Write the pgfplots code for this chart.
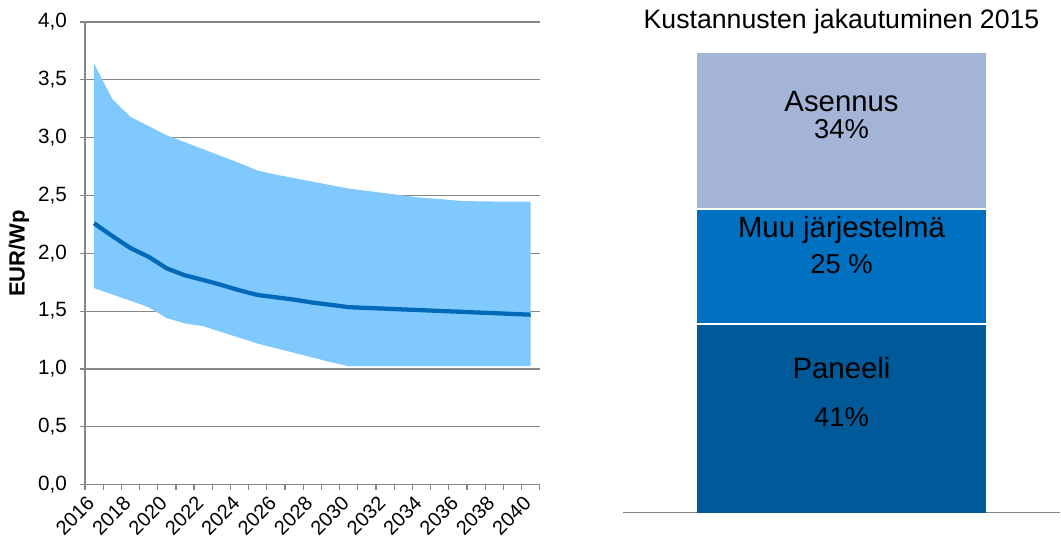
\documentclass[border=0pt]{standalone}
\usepackage{fontspec}
\setmainfont{Liberation Sans}
\usepackage{pgfplots}
\pgfplotsset{compat=1.18}
\definecolor{band}{RGB}{127,201,255}
\definecolor{linec}{RGB}{0,106,184}
\definecolor{gridgray}{RGB}{134,134,134}
\definecolor{paneeli}{RGB}{0,89,152}
\definecolor{muu}{RGB}{0,112,192}
\definecolor{asennus}{RGB}{163,180,214}
\begin{document}
\begin{tikzpicture}
\begin{axis}[
  scale only axis, width=341.25pt, height=347.25pt,
  xmin=-0.5, xmax=24.5, ymin=0, ymax=4,
  axis lines=left,
  axis line style={-, draw=gridgray, line width=0.9pt},
  ytick={0,0.5,...,4},
  ymajorgrids, grid style={draw=gridgray, line width=0.9pt},
  xtick={0,2,...,24},
  xticklabels={2016,2018,2020,2022,2024,2026,2028,2030,2032,2034,2036,2038,2040},
  major x tick style={draw=none},
  extra x ticks={-0.5,0.5,...,24.5},
  extra x tick labels={},
  extra x tick style={major x tick style={draw=gridgray, line width=0.9pt}},
  tick align=outside, major tick length=4pt,
  tick style={draw=gridgray, line width=0.9pt},
  /pgf/number format/assume math mode=true,
  yticklabel style={/pgf/number format/fixed, /pgf/number format/fixed zerofill, /pgf/number format/precision=1, /pgf/number format/use comma, font=\fontsize{15.5}{18}\selectfont, xshift=-6pt},
  xticklabel style={rotate=45, anchor=east, font=\fontsize{15}{18}\selectfont},
  xticklabel shift=5pt,
  ylabel={\textbf{EUR/Wp}},
  ylabel style={at={(axis description cs:-0.145,0.5)}, anchor=center, font=\fontsize{16.5}{19}\selectfont},
]
\addplot[fill=band, draw=none] coordinates {
(0,3.64) (1,3.335) (2,3.18) (3,3.10) (4,3.02) (5,2.96) (6,2.90) (7,2.84) (8,2.78) (9,2.715)
(10,2.68) (11,2.65) (12,2.62) (13,2.59) (14,2.56) (15,2.54) (16,2.52) (17,2.50) (18,2.48)
(19,2.47) (20,2.455) (21,2.45) (22,2.448) (23,2.447) (24,2.447)
(24,1.025) (23,1.025) (22,1.025) (21,1.025) (20,1.025) (19,1.025) (18,1.025) (17,1.025)
(16,1.025) (15,1.025) (14,1.025) (13,1.06) (12,1.10) (11,1.14) (10,1.18) (9,1.22) (8,1.27)
(7,1.32) (6,1.37) (5,1.395) (4,1.44) (3,1.535) (2,1.59) (1,1.645) (0,1.70)} -- cycle;
\addplot[draw=linec, line width=3.2pt, line join=round] coordinates {
(0,2.26) (1,2.15) (2,2.046) (3,1.97) (4,1.87) (5,1.81) (6,1.77) (7,1.727) (8,1.68) (9,1.64)
(10,1.62) (11,1.60) (12,1.575) (13,1.555) (14,1.535) (15,1.528) (16,1.522) (17,1.515) (18,1.509)
(19,1.502) (20,1.496) (21,1.489) (22,1.483) (23,1.476) (24,1.47)};
\end{axis}
\begin{axis}[
  at={(403.5pt,-21pt)}, anchor=south west,
  scale only axis, width=328.5pt, height=345pt,
  xmin=-1, xmax=1, ymin=0, ymax=100,
  axis x line=bottom, axis y line=none,
  axis line style={-, draw=gridgray, line width=0.9pt},
  xtick=\empty, ytick=\empty,
  clip=false,
]
% stacked shares: Paneeli 41, Muu 25, Asennus 34
\addplot[fill=paneeli, draw=none] coordinates {(-0.66,0) (0.66,0) (0.66,41) (-0.66,41)} -- cycle;
\addplot[fill=muu, draw=none] coordinates {(-0.66,41) (0.66,41) (0.66,66) (-0.66,66)} -- cycle;
\addplot[fill=asennus, draw=none] coordinates {(-0.66,66) (0.66,66) (0.66,100) (-0.66,100)} -- cycle;
\addplot[draw=white, line width=1.5pt] coordinates {(-0.66,41) (0.66,41)};
\addplot[draw=white, line width=1.5pt] coordinates {(-0.66,66) (0.66,66)};
\node[anchor=base, font=\fontsize{22}{26}\selectfont] at (axis cs:0,87.2) {Asennus};
\node[anchor=base, font=\fontsize{20.5}{24}\selectfont] at (axis cs:0,81.3) {34\%};
\node[anchor=base, font=\fontsize{22}{26}\selectfont] at (axis cs:0,59.8) {Muu järjestelmä};
\node[anchor=base, font=\fontsize{20.5}{24}\selectfont] at (axis cs:0,52.0) {25 \%};
\node[anchor=base, font=\fontsize{22}{26}\selectfont] at (axis cs:0,29.1) {Paneeli};
\node[anchor=base, font=\fontsize{20.5}{24}\selectfont] at (axis cs:0,18.7) {41\%};
\node[font=\fontsize{20}{24}\selectfont] at (rel axis cs:0.5,1) [yshift=23.25pt] {Kustannusten jakautuminen 2015};
\end{axis}
\useasboundingbox (-63.75pt,-45pt) rectangle (732pt,363.75pt);
\end{tikzpicture}
\end{document}
